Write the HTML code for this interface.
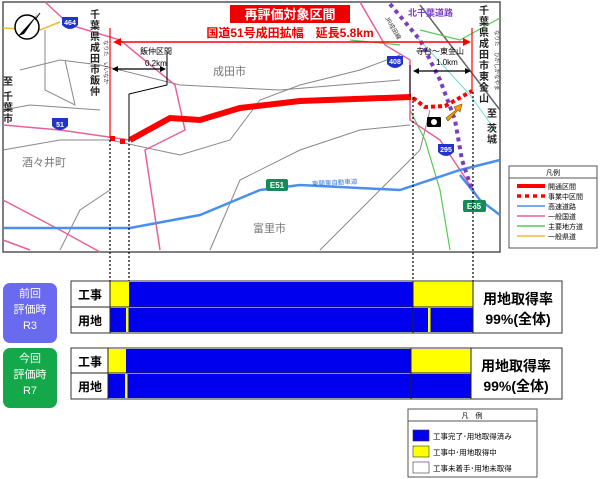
<!DOCTYPE html>
<html><head><meta charset="utf-8"><style>
html,body{margin:0;padding:0;background:#fff;width:600px;height:479px;overflow:hidden}
svg{display:block}
text{font-family:"Liberation Sans","Noto Sans CJK JP",sans-serif}
</style></head><body>
<svg width="600" height="479" viewBox="0 0 600 479">
<!-- map frame -->
<rect x="3" y="2" width="497" height="250" fill="#fff" stroke="#555" stroke-width="1.5"/>
<!-- gray roads -->
<g fill="none" stroke="#888" stroke-width="1">
<path d="M3 150 L60 140 L110 140 L180 155 L230 140 L260 100 L300 85 L360 70 L400 55"/>
<path d="M20 70 L60 60 L100 65 L180 85 L280 90 L400 80"/>
<path d="M45 30 L45 90 L75 105 L65 60"/>
<path d="M3 110 L30 105 L100 110"/>
<path d="M420 5 L500 110" stroke="#666" stroke-width="1.5"/>
<path d="M320 250 L380 190 L420 150 L430 110"/>
<path d="M210 250 L240 180 L300 150 L360 130 L410 125"/>
<path d="M60 250 L80 210 L110 190"/>
</g>
<!-- green roads -->
<g fill="none" stroke="#5c5" stroke-width="1.2">
<path d="M420 30 L460 40 L500 18"/>
<path d="M410 110 L425 140 L440 190 L450 250"/>
<path d="M350 40 L400 45"/>
</g>
<!-- yellow -->
<path d="M3 28 L40 30 L60 22" fill="none" stroke="#eb3" stroke-width="1.5"/>
<!-- light blue -->
<path d="M415 35 L470 95 L495 130" fill="none" stroke="#7dd" stroke-width="1"/>
<!-- pink roads -->
<g fill="none" stroke="#e8609a" stroke-width="1.5">
<path d="M45 2 L70 25 L120 40 L175 85 L185 130 L145 150 L160 250"/>
<path d="M3 125 L60 130 L130 140"/>
<path d="M3 200 L60 230 L100 252"/>
<path d="M360 2 L385 45 L410 60 L410 120 L440 140 L460 170 L480 200 L500 215"/>
<path d="M3 240 L30 250"/>
</g>
<!-- blue highway -->
<g fill="none" stroke="#4a8ef0" stroke-width="2.5">
<path d="M3 228 L130 228 L200 215 L260 190 L300 185 L400 190 L460 170 L500 160"/>
<path d="M460 175 L480 200 L500 215"/>
</g>
<!-- purple dotted -->
<path d="M390 4 L420 40 L440 80 L455 120 L462 160 L472 190" fill="none" stroke="#7a3ec0" stroke-width="4" stroke-dasharray="4 4"/>
<text x="408" y="16" font-size="9" fill="#7a3ec0" font-weight="bold">北千葉道路</text>
<text x="385" y="18" font-size="6" fill="#333" transform="rotate(60 385 18)">JR成田線</text>
<!-- red route -->
<path d="M130 140 L170 118 L200 120 L240 108 L300 101 L411 97" fill="none" stroke="#f00" stroke-width="6"/>
<path d="M413 98 L425 107 L445 106 L472 91" fill="none" stroke="#f00" stroke-width="4" stroke-dasharray="4 3"/>
<rect x="110" y="136" width="5" height="5" fill="#f00"/><rect x="120" y="139" width="5" height="5" fill="#f00"/>
<!-- red vertical + arrow -->
<line x1="110" y1="28" x2="110" y2="138" stroke="#f00" stroke-width="1.2"/>
<line x1="472" y1="28" x2="472" y2="92" stroke="#f00" stroke-width="1.2"/>
<line x1="118" y1="42" x2="466" y2="42" stroke="#f00" stroke-width="1.5"/>
<polygon points="113,42 121,38 121,46" fill="#f00"/><polygon points="471,42 463,38 463,46" fill="#f00"/>
<rect x="230" y="5" width="120" height="18" fill="#e00"/>
<text x="290" y="19" font-size="13" font-weight="bold" fill="#fff" text-anchor="middle">再評価対象区間</text>
<text x="290" y="37" font-size="12" font-weight="bold" fill="#e00" text-anchor="middle">国道51号成田拡幅　延長5.8km</text>
<!-- left section -->
<text x="140" y="54" font-size="8">飯仲区間</text>
<text x="145" y="66" font-size="8">0.2km</text>
<line x1="116" y1="69" x2="162" y2="69" stroke="#000" stroke-width="1.2"/>
<polygon points="112,69 118,66 118,72"/><polygon points="166,69 160,66 160,72"/>
<polyline points="167,52 167,85 129,94 129,140" fill="none" stroke="#000" stroke-width="1"/>
<!-- right section -->
<text x="416" y="54" font-size="8">寺台～東金山</text>
<text x="436" y="65" font-size="8">1.0km</text>
<line x1="416" y1="71" x2="467" y2="71" stroke="#000" stroke-width="1.2"/>
<polygon points="413,71 419,68 419,74"/><polygon points="471,71 465,68 465,74"/>
<line x1="410" y1="65" x2="410" y2="97" stroke="#000" stroke-width="1"/>
<!-- camera and arrow -->
<rect x="427" y="117" width="14" height="10" rx="1" fill="#000"/><circle cx="434" cy="122" r="3" fill="#fff"/>
<polygon points="446,118 456,110 454,107 462,104 460,112 458,110 448,121" fill="#f5a000" stroke="#7a4a00" stroke-width="0.6"/>
<!-- shields -->
<g font-size="7" font-weight="bold" fill="#fff" text-anchor="middle">
<path d="M62 17 h16 v8 q-8 8 -16 0z" fill="#2233cc"/><text x="70" y="25">464</text>
<path d="M52 118 h16 v8 q-8 8 -16 0z" fill="#2233cc"/><text x="60" y="127">51</text>
<path d="M387 56 h16 v8 q-8 8 -16 0z" fill="#2233cc"/><text x="395" y="64">408</text>
<path d="M438 144 h16 v8 q-8 8 -16 0z" fill="#2233cc"/><text x="446" y="152">295</text>
<rect x="266" y="179" width="22" height="12" rx="2" fill="#178a5a"/><text x="277" y="188" font-size="8">E51</text>
<rect x="463" y="200" width="23" height="12" rx="2" fill="#178a5a"/><text x="474" y="209" font-size="8">E65</text>
</g>
<!-- compass -->
<circle cx="27" cy="27" r="12" fill="#fff" stroke="#000" stroke-width="1.5"/>
<polygon points="18,36 38,14 24,34" fill="#000"/><line x1="35" y1="20" x2="40" y2="13" stroke="#000"/>
<!-- place names -->
<g fill="#777" font-size="11">
<text x="213" y="75">成田市</text><text x="22" y="166">酒々井町</text><text x="253" y="232">富里市</text>
</g>
<text x="312" y="186" font-size="6.5" fill="#3a7ae0" transform="rotate(-3 312 186)">東関東自動車道</text>
<!-- vertical texts -->
<g font-size="10" font-weight="bold" fill="#222" text-anchor="middle">
<text x="95" y="18">千</text><text x="95" y="29">葉</text><text x="95" y="40">県</text><text x="95" y="51">成</text><text x="95" y="62">田</text><text x="95" y="73">市</text><text x="95" y="84">飯</text><text x="95" y="95">仲</text>
<text x="8" y="85">至</text><text x="8" y="100">千</text><text x="8" y="111">葉</text><text x="8" y="122">市</text>
<text x="484" y="14">千</text><text x="484" y="25">葉</text><text x="484" y="36">県</text><text x="484" y="47">成</text><text x="484" y="58">田</text><text x="484" y="69">市</text><text x="484" y="80">東</text><text x="484" y="91">金</text><text x="484" y="102">山</text>
<text x="492" y="117">至</text><text x="492" y="132">茨</text><text x="492" y="143">城</text>
</g>
<text x="104" y="40" font-size="5.5" fill="#333" transform="rotate(90 104 40)">なりた　いいなか</text>
<text x="495" y="30" font-size="5.5" fill="#333" transform="rotate(90 495 30)">なりた　ひがしかなやま</text>
<!-- map legend -->
<rect x="509" y="166" width="88" height="82" fill="#fff" stroke="#555"/>
<line x1="509" y1="178" x2="597" y2="178" stroke="#555"/>
<text x="553" y="175" font-size="7" text-anchor="middle">凡例</text>
<g font-size="7">
<line x1="517" y1="186" x2="545" y2="186" stroke="#f00" stroke-width="4"/><text x="548" y="189">開通区間</text>
<line x1="517" y1="196" x2="545" y2="196" stroke="#f00" stroke-width="3.5" stroke-dasharray="4 4"/><text x="548" y="199">事業中区間</text>
<line x1="517" y1="206" x2="545" y2="206" stroke="#4a8ef0" stroke-width="1.5"/><text x="548" y="209">高速道路</text>
<line x1="517" y1="216" x2="545" y2="216" stroke="#e8609a" stroke-width="1.5"/><text x="548" y="219">一般国道</text>
<line x1="517" y1="226" x2="545" y2="226" stroke="#5c5" stroke-width="1.5"/><text x="548" y="229">主要地方道</text>
<line x1="517" y1="236" x2="545" y2="236" stroke="#eb3" stroke-width="1.5"/><text x="548" y="239">一般県道</text>
</g>
<!-- dotted leaders -->
<g stroke="#000" stroke-width="1.2" stroke-dasharray="2 2">
<line x1="110" y1="140" x2="110" y2="282"/><line x1="129" y1="140" x2="129" y2="282"/>
<line x1="413" y1="97" x2="413" y2="282"/><line x1="473" y1="92" x2="473" y2="282"/>
</g>
<!-- badges -->
<rect x="3" y="283" width="54" height="60" rx="7" fill="#6a6af0"/>
<g fill="#fff" font-size="11" text-anchor="middle"><text x="30" y="297">前回</text><text x="30" y="313">評価時</text><text x="30" y="329">R3</text></g>
<rect x="3" y="348" width="54" height="60" rx="7" fill="#15a84a"/>
<g fill="#fff" font-size="11" text-anchor="middle"><text x="30" y="362">今回</text><text x="30" y="378">評価時</text><text x="30" y="394">R7</text></g>
<!-- bar 1 -->
<rect x="71" y="281" width="491" height="52" fill="#fff" stroke="#333"/>
<rect x="110" y="282" width="19" height="25" fill="#ff0"/>
<rect x="129" y="282" width="284" height="25" fill="#0000ee"/>
<rect x="413" y="282" width="60" height="25" fill="#ff0"/>
<rect x="110" y="308" width="363" height="24" fill="#0000ee"/>
<rect x="126" y="308" width="2.5" height="24" fill="#ff0"/>
<rect x="428" y="308" width="2.5" height="24" fill="#ff0"/>
<g stroke="#222" stroke-width="1"><line x1="71" y1="307" x2="473" y2="307"/><line x1="110" y1="281" x2="110" y2="333"/><line x1="413" y1="281" x2="413" y2="333"/><line x1="473" y1="281" x2="473" y2="333"/></g>
<g font-size="12" font-weight="bold"><text x="78" y="299">工事</text><text x="78" y="325">用地</text></g>
<g font-size="14" font-weight="bold" text-anchor="middle"><text x="518" y="304">用地取得率</text><text x="518" y="324">99%(全体)</text></g>
<!-- bar 2 -->
<rect x="71" y="348" width="491" height="51" fill="#fff" stroke="#333"/>
<rect x="108" y="349" width="18" height="24" fill="#ff0"/>
<rect x="126" y="349" width="285" height="24" fill="#0000ee"/>
<rect x="411" y="349" width="60" height="24" fill="#ff0"/>
<rect x="108" y="374" width="363" height="24" fill="#0000ee"/>
<rect x="125" y="374" width="2.5" height="24" fill="#ff0"/>
<g stroke="#222" stroke-width="1"><line x1="71" y1="373" x2="471" y2="373"/><line x1="108" y1="348" x2="108" y2="399"/><line x1="411" y1="348" x2="411" y2="399"/><line x1="471" y1="348" x2="471" y2="399"/></g>
<g font-size="12" font-weight="bold"><text x="78" y="366">工事</text><text x="78" y="391">用地</text></g>
<g font-size="14" font-weight="bold" text-anchor="middle"><text x="516" y="371">用地取得率</text><text x="516" y="391">99%(全体)</text></g>
<!-- bottom legend -->
<rect x="408" y="409" width="129" height="68" fill="#fff" stroke="#555"/>
<line x1="408" y1="421" x2="537" y2="421" stroke="#555"/>
<text x="472" y="418" font-size="7" text-anchor="middle">凡　例</text>
<rect x="413" y="430" width="16" height="11" fill="#0000ee" stroke="#333" stroke-width="0.6"/>
<rect x="413" y="446" width="16" height="11" fill="#ff0" stroke="#333" stroke-width="0.6"/>
<rect x="413" y="462" width="16" height="11" fill="#fff" stroke="#333" stroke-width="0.6"/>
<g font-size="7.5"><text x="433" y="439">工事完了･用地取得済み</text><text x="433" y="455">工事中･用地取得中</text><text x="433" y="471">工事未着手･用地未取得</text></g>
</svg>
</body></html>
